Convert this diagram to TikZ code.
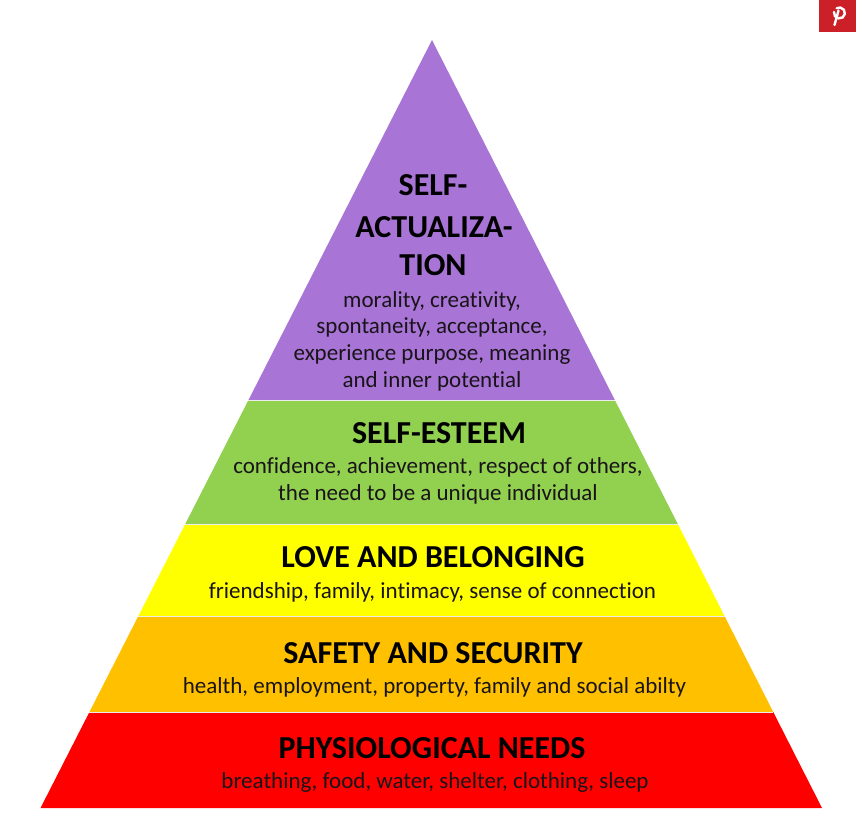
\documentclass[tikz,border=0pt]{standalone}
\usepackage{fontspec}
\setmainfont{Carlito}[Ligatures=CommonOff]
\usetikzlibrary{calc}
\definecolor{cPurple}{RGB}{168,116,214}
\definecolor{cGreen}{RGB}{146,208,80}
\definecolor{cYellow}{RGB}{255,255,0}
\definecolor{cOrange}{RGB}{255,192,0}
\definecolor{cRed}{RGB}{255,0,0}
\definecolor{cPin}{RGB}{203,32,39}
\definecolor{cText}{RGB}{25,20,25}
\begin{document}
\begin{tikzpicture}[x=1pt,y=-1pt,
  title/.style={font=\fontsize{32}{34}\selectfont\bfseries, text=black, inner sep=0pt, anchor=base},
  body/.style={font=\fontsize{23}{25}\selectfont, text=cText, inner sep=0pt, anchor=base},
  sep/.style={white!85!gray, line width=1pt}]
\useasboundingbox (0,0) rectangle (856,830);
\fill[white] (0,0) rectangle (856,830);
% pyramid corners
\coordinate (apex) at (432,40);
\coordinate (bl) at (40.5,808);
\coordinate (br) at (822,808);
% layer boundary points (t = (y-40)/768)
\coordinate (l1) at ($(apex)!0.46875!(bl)$);
\coordinate (r1) at ($(apex)!0.46875!(br)$);
\coordinate (l2) at ($(apex)!0.63021!(bl)$);
\coordinate (r2) at ($(apex)!0.63021!(br)$);
\coordinate (l3) at ($(apex)!0.75!(bl)$);
\coordinate (r3) at ($(apex)!0.75!(br)$);
\coordinate (l4) at ($(apex)!0.875!(bl)$);
\coordinate (r4) at ($(apex)!0.875!(br)$);
% layers
\fill[cPurple] (apex) -- (r1) -- (l1) -- cycle;
\fill[cGreen] (l1) -- (r1) -- (r2) -- (l2) -- cycle;
\fill[cYellow] (l2) -- (r2) -- (r3) -- (l3) -- cycle;
\fill[cOrange] (l3) -- (r3) -- (r4) -- (l4) -- cycle;
\fill[cRed] (l4) -- (r4) -- (br) -- (bl) -- cycle;
\draw[sep] (l1) -- (r1);
\draw[sep] (l2) -- (r2);
\draw[sep] (l3) -- (r3);
\draw[sep] (l4) -- (r4);
% texts
\node[title] (sa1) at (433,195) {SELF-};
\node[title] (sa2) at (434,237) {ACTUALIZA-};
\node[title] (sa3) at (433,275) {TION};
\node[body] (sab1) at (432,307) {morality, creativity,};
\node[body] (sab2) at (432,333) {spontaneity, acceptance,};
\node[body] (sab3) at (432,360) {experience purpose, meaning};
\node[body] (sab4) at (432,387) {and inner potential};
\node[title] (se) at (439,443) {SELF-ESTEEM};
\node[body] (seb1) at (438,473) {confidence, achievement, respect of others,};
\node[body] (seb2) at (438,500) {the need to be a unique individual};
\node[title] (lb) at (433,567) {LOVE AND BELONGING};
\node[body] (lbb) at (432.5,598) {friendship, family, intimacy, sense of connection};
\node[title] (ss) at (433,663) {SAFETY AND SECURITY};
\node[body] (ssb) at (434.5,693) {health, employment, property, family and social abilty};
\node[title] (pn) at (432,758) {PHYSIOLOGICAL NEEDS};
\node[body] (pnb) at (435,788) {breathing, food, water, shelter, clothing, sleep};
% pinterest button
\fill[cPin] (819,0) rectangle (856,32);
\draw[white, line width=2.4pt, line cap=round] (834,12) arc[start angle=190, end angle=-120, x radius=5.5pt, y radius=-5.5pt];
\draw[white, line width=2.4pt, line cap=round] (838.5,10.5) -- (834.5,25);
\end{tikzpicture}
\end{document}
